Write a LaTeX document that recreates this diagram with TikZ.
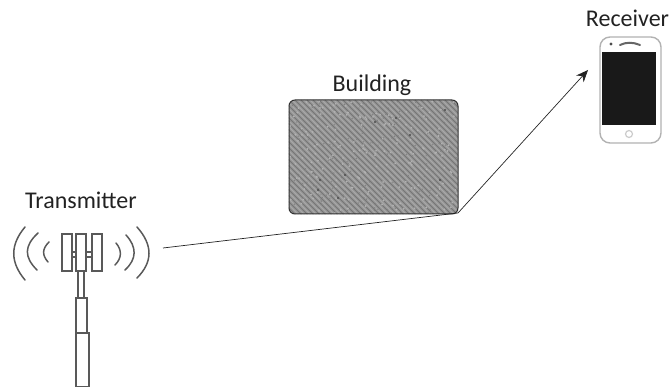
\documentclass[tikz,border=0pt]{standalone}
\usepackage{fontspec}
\usetikzlibrary{arrows.meta}
\setmainfont{Carlito}
\definecolor{ink}{HTML}{222222}
\definecolor{bfill}{HTML}{969696}
\definecolor{hatch}{HTML}{757575}
\definecolor{hatchl}{HTML}{A8A8A8}
\tikzset{
  lab/.style={font=\fontsize{24}{28}\selectfont,text=ink,inner sep=0pt,anchor=center},
  bld/.style={inner sep=0pt,minimum width=169pt,minimum height=114pt,rounded corners=6pt},
  wave/.style={draw=black!65,line width=1.5pt,line cap=round},
  part/.style={draw=black!65,line width=1.2pt,fill=white},
  conn/.style={draw=ink,line width=0.7pt}
}
\begin{document}
\begin{tikzpicture}[x=1pt,y=-1pt]
\useasboundingbox (0,0) rectangle (670,387);
% building
\node[bld,fill=bfill] (building) at (373.5,157) {};
\begin{scope}
\clip[rounded corners=6pt] (building.south west) rectangle (building.north east);
\foreach \k in {-240,-234,...,180}{
  \draw[hatch,line width=1pt] (289+\k,100) -- (289+\k+140,240);
  \draw[hatchl,line width=1pt] (292+\k,100) -- (292+\k+140,240);
}
\pgfmathsetseed{7}
\foreach \i in {1,...,200}{
  \pgfmathsetmacro{\px}{289+169*rnd}
  \pgfmathsetmacro{\py}{100+114*rnd}
  \fill[black!50] (\px,\py) circle (0.7pt);
  \pgfmathsetmacro{\qx}{289+169*rnd}
  \pgfmathsetmacro{\qy}{100+114*rnd}
  \fill[black!30] (\qx,\qy) circle (1pt);
}
\foreach \a/\b in {375/122,396/118,320/180,338/198,410/135,440/180,318/190,445/110,345/175}{
  \fill[black!70] (\a,\b) circle (1.1pt);
}
\end{scope}
\node[bld,draw=black!80,line width=1pt] at (building.center) {};
\node[lab] (blabel) at (372,85) {Building};
% transmitter
\node[lab] (tlabel) at (81,200) {Transmitter};
\draw[wave] (25,280) .. controls (10,262) and (10,245) .. (25,227);
\draw[wave] (37,270) .. controls (24,257) and (24,246) .. (38,233);
\draw[wave] (48,262) .. controls (42,255) and (42,249) .. (49,242);
\draw[wave] (137,227) .. controls (153,245) and (153,262) .. (137,278);
\draw[wave] (126,235) .. controls (137,247) and (137,259) .. (125,270);
\draw[wave] (116,243) .. controls (122,250) and (122,258) .. (115,265);
\draw[part] (72,252) -- (76,252) (72,257) -- (76,257) (86,252) -- (92,252) (86,257) -- (92,257);
\draw[part] (62,234) rectangle (72,271);
\draw[part] (92,234) rectangle (102,271);
\draw[part] (78,271) rectangle (84,298);
\draw[part] (76,298) rectangle (87,333);
\draw[part] (76,333) rectangle (89,387);
\draw[part] (76,234) rectangle (86,271);
\coordinate (txport) at (163,248);
% receiver
\draw[draw=black!30,line width=1.4pt,fill=white,rounded corners=10pt] (600,37) rectangle (661,143);
\fill[black!90] (602,52) rectangle (656,125);
\draw[black!60,line width=2pt,line cap=round] (620,45) .. controls (626,42) and (633,42) .. (640,45);
\fill[black!70] (611,44) circle (1.6pt);
\draw[black!20,line width=1.2pt] (629,134) circle (3.5pt);
\node[lab] (rlabel) at (627.5,18) {Receiver};
\coordinate (rxport) at (588,70);
\coordinate (bounce) at (458,213);
\draw[conn,-{Stealth[length=12pt,width=10pt]}] (txport) -- (bounce) -- (rxport);
\end{tikzpicture}
\end{document}
